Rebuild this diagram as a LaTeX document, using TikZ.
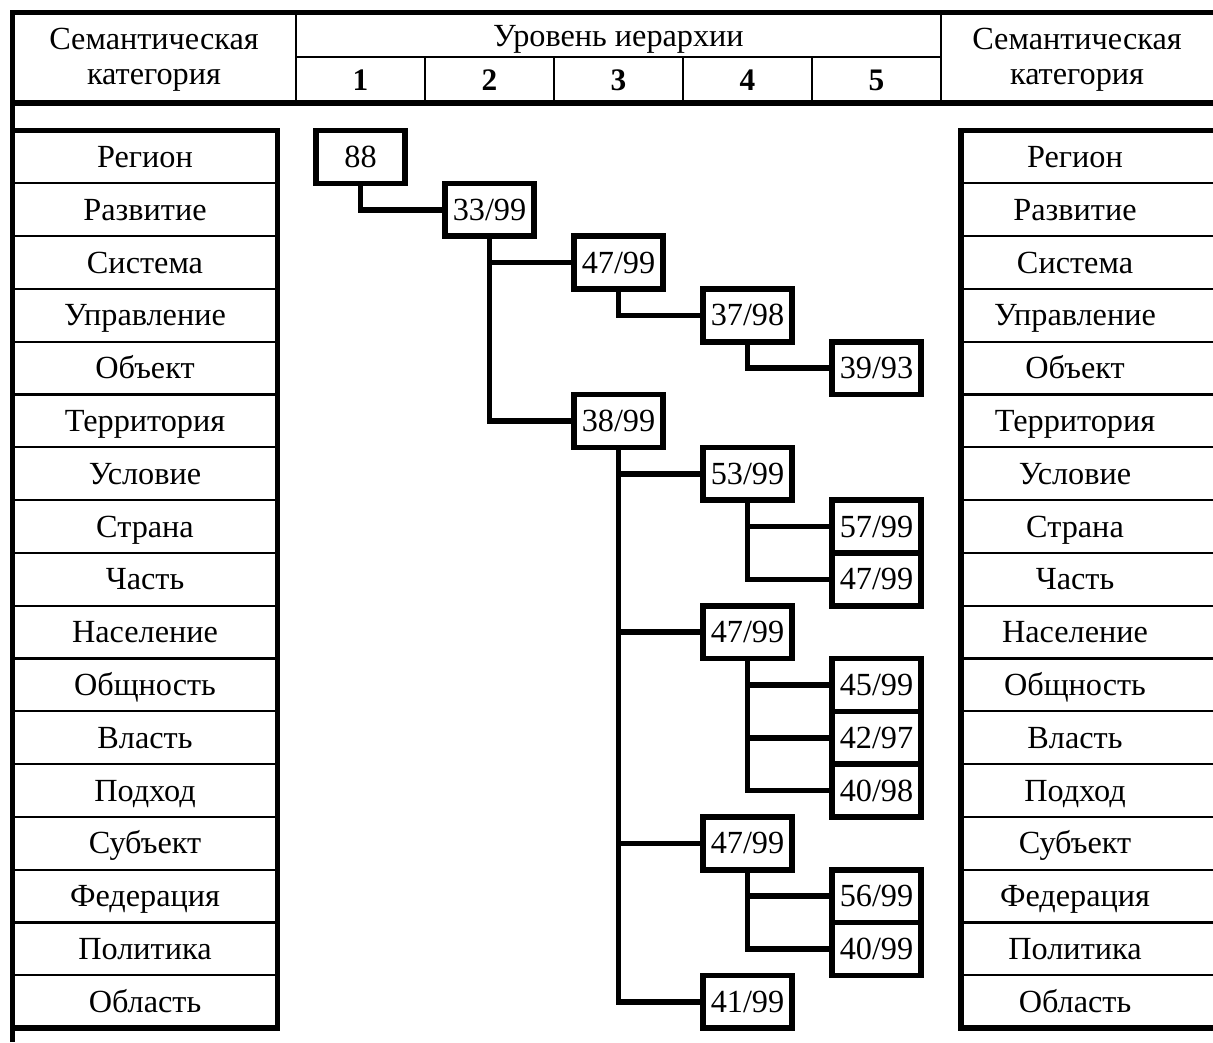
\documentclass[tikz,border=0pt]{standalone}
\usepackage{fontspec}
\setmainfont{Liberation Serif}
\begin{document}
\begin{tikzpicture}[x=0.75pt,y=-0.75pt,
  heavy/.style={line width=4.2pt},
  light/.style={line width=1.6pt},
  txt/.style={font=\fontsize{24.2}{28}\selectfont, inner sep=0pt, anchor=base},
  num/.style={font=\fontsize{23.5}{26}\selectfont\bfseries, inner sep=0pt, anchor=base},
  tbox/.style={draw, line width=4.2pt, fill=white, minimum width=66.75pt, minimum height=39.6pt, inner sep=0pt, font=\fontsize{24.2}{28}\selectfont},
  conn/.style={line width=4.2pt}
]
\useasboundingbox (0,0) rectangle (1213,1042);
% frame and header
\draw[heavy] (12.5,1042) -- (12.5,12.5) -- (1213,12.5);
\draw[heavy] (12.5,103) -- (1213,103);
\draw[light] (296,12.5) -- (296,103);
\draw[light] (941,12.5) -- (941,103);
\draw[light] (296,57) -- (941,57);
\foreach \x in {425,554,683,812} \draw[light] (\x,57) -- (\x,103);
\node[txt] (hl1) at (154,49) {Семантическая};
\node[txt] (hl2) at (154,84) {категория};
\node[txt] (hr1) at (1077,49) {Семантическая};
\node[txt] (hr2) at (1077,84) {категория};
\node[txt] (hm) at (618.5,46) {Уровень иерархии};
\foreach \n/\x in {1/360.5,2/489.5,3/618.5,4/747.5,5/876.5}
  \node[num] (h\n) at (\x,90) {\n};
% side columns
\foreach \i in {1,...,16} {
  \draw[light] (12.5,{130.5+52.8*\i}) -- (277.5,{130.5+52.8*\i});
  \draw[light] (961,{130.5+52.8*\i}) -- (1213,{130.5+52.8*\i});
}
\draw[heavy,line join=miter] (12.5,130.5) -- (277.5,130.5) -- (277.5,1028) -- (12.5,1028);
\draw[heavy,line join=miter] (1213,130.5) -- (961,130.5) -- (961,1028) -- (1213,1028);
\foreach \t [count=\i from 0] in {Регион,Развитие,Система,Управление,Объект,Территория,Условие,Страна,Часть,Население,Общность,Власть,Подход,Субъект,Федерация,Политика,Область} {
  \node[txt] (L\i) at (145,{167.5+52.8*\i}) {\t};
  \node[txt] (R\i) at (1075,{167.5+52.8*\i}) {\t};
}
% tree
\def\ry#1{156.9+52.8*#1}
\node[tbox] (a)  at (360.5,{\ry{0}}) {88};
\node[tbox] (b)  at (489.5,{\ry{1}}) {33/99};
\node[tbox] (c)  at (618.5,{\ry{2}}) {47/99};
\node[tbox] (d)  at (747.5,{\ry{3}}) {37/98};
\node[tbox] (e)  at (876.5,{\ry{4}}) {39/93};
\node[tbox] (f)  at (618.5,{\ry{5}}) {38/99};
\node[tbox] (g)  at (747.5,{\ry{6}}) {53/99};
\node[tbox] (h)  at (876.5,{\ry{7}}) {57/99};
\node[tbox] (i)  at (876.5,{\ry{8}}) {47/99};
\node[tbox] (j)  at (747.5,{\ry{9}}) {47/99};
\node[tbox] (k)  at (876.5,{\ry{10}}) {45/99};
\node[tbox] (l)  at (876.5,{\ry{11}}) {42/97};
\node[tbox] (m)  at (876.5,{\ry{12}}) {40/98};
\node[tbox] (n)  at (747.5,{\ry{13}}) {47/99};
\node[tbox] (o)  at (876.5,{\ry{14}}) {56/99};
\node[tbox] (p)  at (876.5,{\ry{15}}) {40/99};
\node[tbox] (q)  at (747.5,{\ry{16}}) {41/99};
\foreach \u/\v in {a/b,b/c,b/f,c/d,d/e,f/g,f/j,f/n,f/q,g/h,g/i,j/k,j/l,j/m,n/o,n/p}
  \draw[conn] (\u.south) |- (\v.west);
\end{tikzpicture}
\end{document}
